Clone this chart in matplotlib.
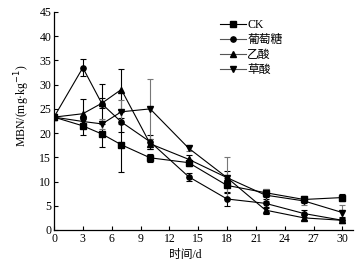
import matplotlib
matplotlib.use("Agg")
import matplotlib.pyplot as plt

plt.rcParams['font.family'] = ['Liberation Serif', 'Noto Sans CJK SC']
plt.rcParams['axes.unicode_minus'] = False

days = [0, 3, 5, 7, 10, 14, 18, 22, 26, 30]
series_names = ['CK', '葡萄糖', '乙酸', '草酸']
ck = [23.3, 21.5, 19.8, 17.6, 14.9, 13.9, 9.2, 7.7, 6.3, 6.7]
ck_err = [0.3, 1.8, 2.7, 5.6, 0.8, 0.6, 1.5, 0.8, 0.8, 0.8]
glucose = [23.3, 33.5, 26.0, 22.3, 18.2, 11.0, 6.4, 5.5, 3.4, 2.0]
glucose_err = [0.3, 1.7, 4.2, 2.0, 1.5, 0.8, 1.5, 1.0, 0.8, 0.6]
acetic = [23.3, 24.0, 26.2, 29.0, 17.8, 14.6, 10.8, 4.1, 2.5, 2.0]
acetic_err = [0.3, 3.0, 1.0, 4.2, 1.0, 0.8, 1.3, 0.7, 0.5, 0.5]
oxalic = [23.3, 22.4, 21.9, 24.4, 25.0, 16.9, 10.8, 7.2, 6.0, 3.6]
oxalic_err = [0.3, 1.2, 1.0, 2.5, 6.2, 0.5, 4.2, 1.2, 0.8, 1.5]

xticks = [0, 3, 6, 9, 12, 15, 18, 21, 24, 27, 30]
yticks = [0, 5, 10, 15, 20, 25, 30, 35, 40, 45]

fig = plt.figure(figsize=(3.64, 2.62), dpi=100)
ax = fig.add_axes([54/364, 1 - 230/262, (353-54)/364, (230-12)/262])

data = [(ck, ck_err, 's', 'black', 'black'),
        (glucose, glucose_err, 'o', 'black', 'black'),
        (acetic, acetic_err, '^', 'black', 'black'),
        (oxalic, oxalic_err, 'v', 'black', '#777777')]
leg_cols = ['black', '#555555', '#555555', '#555555']
handles = []
for (vals, errs, mk, col, ecol), name in zip(data, series_names):
    ax.errorbar(days, vals, yerr=errs, fmt='none', ecolor=ecol,
                elinewidth=0.8, capsize=2.2, capthick=0.8, zorder=2)
    h, = ax.plot(days, vals, marker=mk, color=col, lw=0.8, ms=3.8,
                 label=name, zorder=3)
    handles.append(h)

ax.set_xlim(0, 31.1)
ax.set_ylim(0, 45)
ax.set_xticks(xticks)
ax.set_yticks(yticks)
ax.spines['top'].set_visible(False)
ax.spines['right'].set_visible(False)
for s in ['left', 'bottom']:
    ax.spines[s].set_linewidth(0.9)
ax.tick_params(direction='in', length=3, width=0.8, labelsize=8.5, pad=2)

ax.set_xlabel('时间/d', fontsize=8.5, labelpad=1)
ax.xaxis.set_label_coords((185-54)/(353-54), -0.085)
ax.set_ylabel('MBN/(mg·kg$^{-1}$)', fontsize=8.5)
ax.yaxis.set_label_coords(-0.075, 0.57)

leg = ax.legend(handles=handles, loc='upper left', bbox_to_anchor=(0.54, 0.99),
                frameon=False, fontsize=8.5, handlelength=2.2, handletextpad=0.1,
                labelspacing=0.25, borderaxespad=0)
for line, c in zip(leg.get_lines(), leg_cols):
    line.set_color(c)
    line.set_markerfacecolor('black')
    line.set_markeredgecolor('black')

fig.savefig('out.png', dpi=100)
